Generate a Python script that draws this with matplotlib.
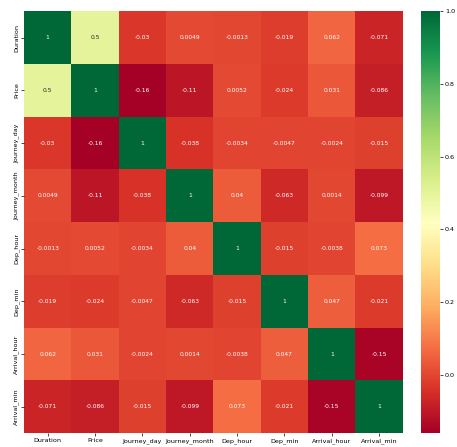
import matplotlib
matplotlib.use("Agg")
import matplotlib.pyplot as plt
import numpy as np
import pandas as pd
import seaborn as sns

LABELS = ["Duration", "Price", "Journey_day", "Journey_month",
          "Dep_hour", "Dep_min", "Arrival_hour", "Arrival_min"]

duration = [1, 0.5, -0.03, 0.0049, -0.0013, -0.019, 0.062, -0.071]
price = [0.5, 1, -0.16, -0.11, 0.0052, -0.024, 0.031, -0.086]
journey_day = [-0.03, -0.16, 1, -0.038, -0.0034, -0.0047, -0.0024, -0.015]
journey_month = [0.0049, -0.11, -0.038, 1, 0.04, -0.063, 0.0014, -0.099]
dep_hour = [-0.0013, 0.0052, -0.0034, 0.04, 1, -0.015, -0.0038, 0.073]
dep_min = [-0.019, -0.024, -0.0047, -0.063, -0.015, 1, 0.047, -0.021]
arrival_hour = [0.062, 0.031, -0.0024, 0.0014, -0.0038, 0.047, 1, -0.15]
arrival_min = [-0.071, -0.086, -0.015, -0.099, 0.073, -0.021, -0.15, 1]

corr = pd.DataFrame(
    [duration, price, journey_day, journey_month,
     dep_hour, dep_min, arrival_hour, arrival_min],
    index=LABELS, columns=LABELS,
)

fig = plt.figure(figsize=(4.57, 4.47), dpi=100)
# heatmap 24..403 px wide, 11..433 px tall; colorbar pulled in so labels fit
ax = fig.add_axes([0.0525, 0.031, 0.829, 0.944])
cax = fig.add_axes([0.921, 0.031, 0.042, 0.944])

sns.heatmap(
    corr,
    annot=True,
    cmap="RdYlGn",
    ax=ax,
    cbar_ax=cax,
    annot_kws={"size": 4.3},
)

ax.set_yticklabels(LABELS, rotation=90, va="center", fontsize=4.6)
ax.set_xticklabels(LABELS, rotation=0, ha="center", fontsize=4.6)
ax.tick_params(axis="both", length=2, width=0.5, pad=1.5)

cax.tick_params(labelsize=4.6, length=2, width=0.5, pad=1.5)
cax.set_yticks([0.0, 0.2, 0.4, 0.6, 0.8, 1.0])

fig.savefig("out.png", dpi=100)
